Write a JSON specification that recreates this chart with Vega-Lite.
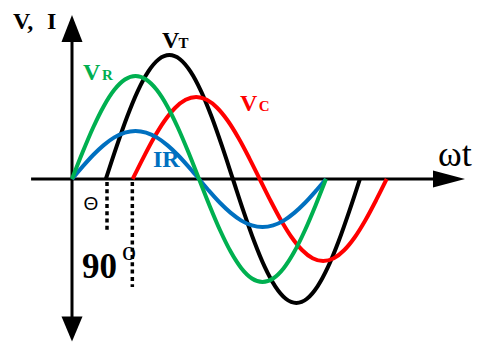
{
  "$schema": "https://vega.github.io/schema/vega-lite/v6.json",
  "width": 483,
  "height": 342,
  "padding": 0,
  "autosize": {"type": "fit", "contains": "padding"},
  "background": "white",
  "config": {"view": {"stroke": null}},
  "datasets": {
    "curves": [
      {"c":"k","x":48,"y":0},{"c":"k","x":63,"y":32.1},{"c":"k","x":78,"y":62},{"c":"k","x":93,"y":87.7},{"c":"k","x":108,"y":107.4},{"c":"k","x":123,"y":119.8},{"c":"k","x":138,"y":124},{"c":"k","x":153,"y":119.8},{"c":"k","x":168,"y":107.4},{"c":"k","x":183,"y":87.7},{"c":"k","x":198,"y":62},{"c":"k","x":213,"y":32.1},{"c":"k","x":228,"y":0},{"c":"k","x":243,"y":-32.1},{"c":"k","x":258,"y":-62},{"c":"k","x":273,"y":-87.7},{"c":"k","x":288,"y":-107.4},{"c":"k","x":303,"y":-119.8},{"c":"k","x":318,"y":-124},{"c":"k","x":333,"y":-119.8},{"c":"k","x":348,"y":-107.4},{"c":"k","x":363,"y":-87.7},{"c":"k","x":378,"y":-62},{"c":"k","x":393,"y":-32.1},{"c":"k","x":408,"y":0},
      {"c":"r","x":86,"y":0},{"c":"r","x":101,"y":21.2},{"c":"r","x":116,"y":41},{"c":"r","x":131,"y":58},{"c":"r","x":146,"y":71},{"c":"r","x":161,"y":79.2},{"c":"r","x":176,"y":82},{"c":"r","x":191,"y":79.2},{"c":"r","x":206,"y":71},{"c":"r","x":221,"y":58},{"c":"r","x":236,"y":41},{"c":"r","x":251,"y":21.2},{"c":"r","x":266,"y":0},{"c":"r","x":281,"y":-21.2},{"c":"r","x":296,"y":-41},{"c":"r","x":311,"y":-58},{"c":"r","x":326,"y":-71},{"c":"r","x":341,"y":-79.2},{"c":"r","x":356,"y":-82},{"c":"r","x":371,"y":-79.2},{"c":"r","x":386,"y":-71},{"c":"r","x":401,"y":-58},{"c":"r","x":416,"y":-41},{"c":"r","x":431,"y":-21.2},{"c":"r","x":446,"y":0},
      {"c":"b","x":0,"y":0},{"c":"b","x":15,"y":12.4},{"c":"b","x":30,"y":24},{"c":"b","x":45,"y":33.9},{"c":"b","x":60,"y":41.6},{"c":"b","x":75,"y":46.4},{"c":"b","x":90,"y":48},{"c":"b","x":105,"y":46.4},{"c":"b","x":120,"y":41.6},{"c":"b","x":135,"y":33.9},{"c":"b","x":150,"y":24},{"c":"b","x":165,"y":12.4},{"c":"b","x":180,"y":0},{"c":"b","x":195,"y":-12.4},{"c":"b","x":210,"y":-24},{"c":"b","x":225,"y":-33.9},{"c":"b","x":240,"y":-41.6},{"c":"b","x":255,"y":-46.4},{"c":"b","x":270,"y":-48},{"c":"b","x":285,"y":-46.4},{"c":"b","x":300,"y":-41.6},{"c":"b","x":315,"y":-33.9},{"c":"b","x":330,"y":-24},{"c":"b","x":345,"y":-12.4},{"c":"b","x":360,"y":0},
      {"c":"g","x":0,"y":0},{"c":"g","x":15,"y":26.7},{"c":"g","x":30,"y":51.5},{"c":"g","x":45,"y":72.8},{"c":"g","x":60,"y":89.2},{"c":"g","x":75,"y":99.5},{"c":"g","x":90,"y":103},{"c":"g","x":105,"y":99.5},{"c":"g","x":120,"y":89.2},{"c":"g","x":135,"y":72.8},{"c":"g","x":150,"y":51.5},{"c":"g","x":165,"y":26.7},{"c":"g","x":180,"y":0},{"c":"g","x":195,"y":-26.7},{"c":"g","x":210,"y":-51.5},{"c":"g","x":225,"y":-72.8},{"c":"g","x":240,"y":-89.2},{"c":"g","x":255,"y":-99.5},{"c":"g","x":270,"y":-103},{"c":"g","x":285,"y":-99.5},{"c":"g","x":300,"y":-89.2},{"c":"g","x":315,"y":-72.8},{"c":"g","x":330,"y":-51.5},{"c":"g","x":345,"y":-26.7},{"c":"g","x":360,"y":0}
    ],
    "axes": [
      {"x":-58,"x2":534,"y":0,"y2":0},
      {"x":0,"x2":0,"y":149,"y2":-151}
    ],
    "dots": [
      {"x":49.6,"y":-3,"y2":-54},
      {"x":85.5,"y":-3,"y2":-108}
    ],
    "arrows": [
      {"d":"up","x":0,"y":150.5},
      {"d":"down","x":0,"y":-150},
      {"d":"right","x":534.3,"y":0}
    ],
    "big": [
      {"t":"V,","x":-83.6,"y":150,"c":"k"},
      {"t":"I","x":-35.4,"y":150,"c":"k"},
      {"t":"V","x":127.6,"y":131,"c":"k"},
      {"t":"V","x":15.6,"y":99,"c":"g"},
      {"t":"V","x":238.1,"y":68,"c":"r"},
      {"t":"IR","x":114.8,"y":12,"c":"b"}
    ],
    "small": [
      {"t":"T","x":151,"y":131,"c":"k"},
      {"t":"R","x":42.5,"y":99,"c":"g"},
      {"t":"C","x":264.5,"y":68,"c":"r"}
    ]
  },
  "layer": [
    {
      "data": {"name": "axes"},
      "mark": {"type": "rule", "color": "black", "strokeWidth": 3},
      "encoding": {
        "x": {"field": "x", "type": "quantitative", "axis": null, "scale": {"domain": [-102.05, 582.5], "nice": false, "zero": false}},
        "x2": {"field": "x2"},
        "y": {"field": "y", "type": "quantitative", "axis": null, "scale": {"domain": [-163, 179], "nice": false, "zero": false}},
        "y2": {"field": "y2"}
      }
    },
    {
      "data": {"name": "dots"},
      "mark": {"type": "rule", "color": "black", "strokeWidth": 3.5, "strokeDash": [4, 3.3]},
      "encoding": {
        "x": {"field": "x", "type": "quantitative", "axis": null, "scale": {"domain": [-102.05, 582.5], "nice": false, "zero": false}},
        "y": {"field": "y", "type": "quantitative", "axis": null, "scale": {"domain": [-163, 179], "nice": false, "zero": false}},
        "y2": {"field": "y2"}
      }
    },
    {
      "data": {"name": "arrows"},
      "transform": [{"filter": "datum.d === 'up'"}],
      "mark": {"type": "point", "shape": "M-0.78,1L0,-1L0.78,1Z", "size": 729, "filled": true, "color": "black", "opacity": 1},
      "encoding": {
        "x": {"field": "x", "type": "quantitative", "axis": null, "scale": {"domain": [-102.05, 582.5], "nice": false, "zero": false}},
        "y": {"field": "y", "type": "quantitative", "axis": null, "scale": {"domain": [-163, 179], "nice": false, "zero": false}}
      }
    },
    {
      "data": {"name": "arrows"},
      "transform": [{"filter": "datum.d === 'down'"}],
      "mark": {"type": "point", "shape": "M-0.84,-1L0,1L0.84,-1Z", "size": 625, "filled": true, "color": "black", "opacity": 1},
      "encoding": {
        "x": {"field": "x", "type": "quantitative", "axis": null, "scale": {"domain": [-102.05, 582.5], "nice": false, "zero": false}},
        "y": {"field": "y", "type": "quantitative", "axis": null, "scale": {"domain": [-163, 179], "nice": false, "zero": false}}
      }
    },
    {
      "data": {"name": "arrows"},
      "transform": [{"filter": "datum.d === 'right'"}],
      "mark": {"type": "point", "shape": "M-1,-0.53L1,0L-1,0.53Z", "size": 1024, "filled": true, "color": "black", "opacity": 1},
      "encoding": {
        "x": {"field": "x", "type": "quantitative", "axis": null, "scale": {"domain": [-102.05, 582.5], "nice": false, "zero": false}},
        "y": {"field": "y", "type": "quantitative", "axis": null, "scale": {"domain": [-163, 179], "nice": false, "zero": false}}
      }
    },
    {
      "data": {"name": "curves"},
      "mark": {"type": "line", "strokeWidth": 4, "interpolate": "monotone", "strokeCap": "butt"},
      "encoding": {
        "x": {"field": "x", "type": "quantitative", "axis": null, "scale": {"domain": [-102.05, 582.5], "nice": false, "zero": false}},
        "y": {"field": "y", "type": "quantitative", "axis": null, "scale": {"domain": [-163, 179], "nice": false, "zero": false}},
        "color": {"field": "c", "type": "nominal", "legend": null, "scale": {"domain": ["k", "g", "r", "b"], "range": ["#000000", "#00B050", "#FF0000", "#0070C0"]}}
      }
    },
    {
      "data": {"name": "big"},
      "mark": {"type": "text", "font": "Liberation Serif, Times New Roman, DejaVu Serif, serif", "fontWeight": "bold", "fontSize": 24, "align": "left", "baseline": "alphabetic"},
      "encoding": {
        "x": {"field": "x", "type": "quantitative", "axis": null, "scale": {"domain": [-102.05, 582.5], "nice": false, "zero": false}},
        "y": {"field": "y", "type": "quantitative", "axis": null, "scale": {"domain": [-163, 179], "nice": false, "zero": false}},
        "text": {"field": "t"},
        "color": {"field": "c", "type": "nominal", "legend": null, "scale": {"domain": ["k", "g", "r", "b"], "range": ["#000000", "#00B050", "#FF0000", "#0070C0"]}}
      }
    },
    {
      "data": {"name": "small"},
      "mark": {"type": "text", "font": "Liberation Serif, Times New Roman, DejaVu Serif, serif", "fontWeight": "bold", "fontSize": 15, "align": "left", "baseline": "alphabetic"},
      "encoding": {
        "x": {"field": "x", "type": "quantitative", "axis": null, "scale": {"domain": [-102.05, 582.5], "nice": false, "zero": false}},
        "y": {"field": "y", "type": "quantitative", "axis": null, "scale": {"domain": [-163, 179], "nice": false, "zero": false}},
        "text": {"field": "t"},
        "color": {"field": "c", "type": "nominal", "legend": null, "scale": {"domain": ["k", "g", "r", "b"], "range": ["#000000", "#00B050", "#FF0000", "#0070C0"]}}
      }
    },
    {
      "data": {"values": [{"t": "ωt", "x": 518.7, "y": 13}]},
      "mark": {"type": "text", "font": "Liberation Serif, Times New Roman, DejaVu Serif, serif", "fontSize": 36, "align": "left", "baseline": "alphabetic", "color": "black"},
      "encoding": {
        "x": {"field": "x", "type": "quantitative", "axis": null, "scale": {"domain": [-102.05, 582.5], "nice": false, "zero": false}},
        "y": {"field": "y", "type": "quantitative", "axis": null, "scale": {"domain": [-163, 179], "nice": false, "zero": false}},
        "text": {"field": "t"}
      }
    },
    {
      "data": {"values": [{"t": "90", "x": 14.2, "y": -99}]},
      "mark": {"type": "text", "font": "Liberation Serif, Times New Roman, DejaVu Serif, serif", "fontWeight": "bold", "fontSize": 35, "align": "left", "baseline": "alphabetic", "color": "black"},
      "encoding": {
        "x": {"field": "x", "type": "quantitative", "axis": null, "scale": {"domain": [-102.05, 582.5], "nice": false, "zero": false}},
        "y": {"field": "y", "type": "quantitative", "axis": null, "scale": {"domain": [-163, 179], "nice": false, "zero": false}},
        "text": {"field": "t"}
      }
    },
    {
      "data": {"values": [{"t": "o", "x": 70.9, "y": -81}]},
      "mark": {"type": "text", "font": "Liberation Serif, Times New Roman, DejaVu Serif, serif", "fontSize": 28, "align": "left", "baseline": "alphabetic", "color": "black"},
      "encoding": {
        "x": {"field": "x", "type": "quantitative", "axis": null, "scale": {"domain": [-102.05, 582.5], "nice": false, "zero": false}},
        "y": {"field": "y", "type": "quantitative", "axis": null, "scale": {"domain": [-163, 179], "nice": false, "zero": false}},
        "text": {"field": "t"}
      }
    },
    {
      "data": {"values": [{"t": "Θ", "x": 26.9, "y": -31}]},
      "mark": {"type": "text", "font": "Liberation Sans, DejaVu Sans, sans-serif", "fontSize": 19, "align": "center", "baseline": "alphabetic", "color": "black"},
      "encoding": {
        "x": {"field": "x", "type": "quantitative", "axis": null, "scale": {"domain": [-102.05, 582.5], "nice": false, "zero": false}},
        "y": {"field": "y", "type": "quantitative", "axis": null, "scale": {"domain": [-163, 179], "nice": false, "zero": false}},
        "text": {"field": "t"}
      }
    }
  ]
}
